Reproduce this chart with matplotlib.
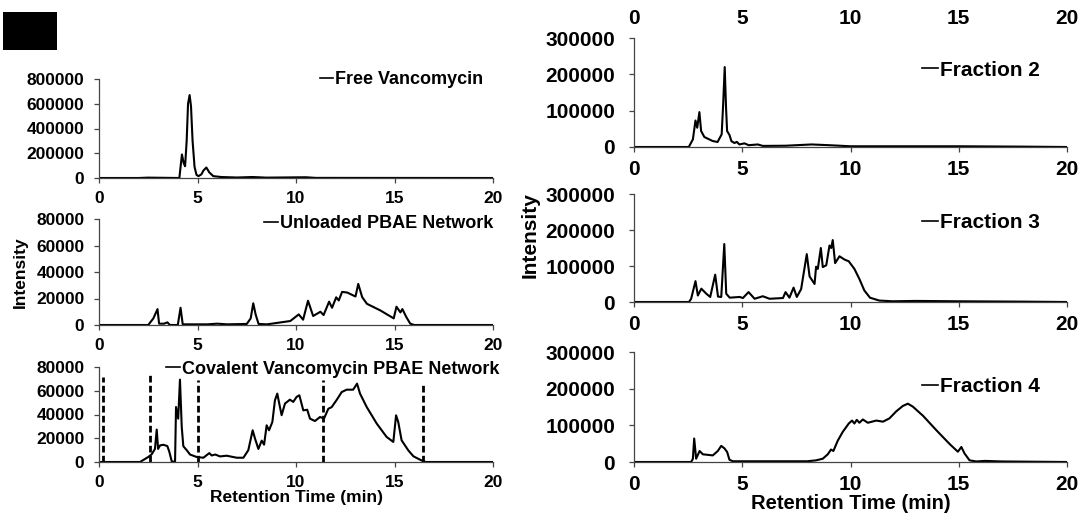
import matplotlib
matplotlib.use("Agg")
import matplotlib.pyplot as plt
from matplotlib.patches import Rectangle

plt.rcParams["font.family"] = ["Liberation Sans", "DejaVu Sans"]
plt.rcParams["font.weight"] = "bold"

# Chromatogram traces (retention time in min, intensity)
free_t = [0, 2, 2.5, 3.0, 4.08, 4.12, 4.21, 4.3, 4.37, 4.45, 4.52, 4.6, 4.67, 4.75, 4.85,
          4.95, 5.05, 5.2, 5.3, 5.45, 5.6, 5.8, 6.2, 7.0, 7.8, 8.5, 10.5, 11, 20]
free_i = [0, 0, 3000, 2000, 0, 60000, 190000, 120000, 95000, 300000, 600000, 670000,
          580000, 300000, 90000, 25000, 15000, 30000, 60000, 85000, 45000, 15000, 8000, 4000,
          8000, 3000, 6000, 1000, 0]

unl_t = [0, 2.5, 2.76, 2.97, 3.05, 3.3, 3.47, 3.6, 4.0, 4.14, 4.25, 5.5, 6.0, 6.5, 7.5, 7.7,
         7.83, 7.95, 8.1, 8.53, 9.0, 9.71, 10.14, 10.36, 10.61, 10.87, 11.24, 11.4, 11.68,
         11.83, 12.04, 12.17, 12.34, 12.6, 13.02, 13.16, 13.36, 13.6, 14.28, 14.96, 15.1,
         15.3, 15.4, 15.6, 15.8, 16.0, 20]
unl_i = [0, 0, 5000, 12000, 1000, 1000, 2000, 0, 0, 13000, 500, 500, 1000, 500, 800, 5000,
         16400, 8000, 800, 500, 1500, 3000, 8000, 4000, 18300, 6800, 10000, 7500, 17600,
         13000, 20900, 18500, 25000, 24500, 21500, 31000, 21000, 16000, 11000, 5000, 13800,
         9500, 12000, 6000, 1000, 0, 0]

cov_t = [0, 2.08, 2.5, 2.67, 2.84, 2.93, 3.0, 3.1, 3.27, 3.47, 3.57, 3.69, 3.86, 3.91, 4.02,
         4.11, 4.2, 4.28, 4.45, 4.62, 4.96, 5.3, 5.6, 5.72, 5.9, 6.14, 6.48, 6.99, 7.33,
         7.58, 7.8, 7.92, 8.09, 8.26, 8.38, 8.51, 8.63, 8.8, 8.93, 9.05, 9.15, 9.27, 9.44,
         9.69, 9.86, 10.03, 10.17, 10.37, 10.57, 10.71, 10.96, 11.22, 11.42, 11.64, 11.81,
         12.07, 12.32, 12.57, 12.9, 13.1, 13.25, 13.59, 14.1, 14.6, 14.94, 15.08, 15.19,
         15.36, 15.7, 15.96, 16.29, 16.46, 16.6, 20]
cov_i = [0, 0, 4200, 6400, 11000, 27300, 11000, 14000, 14500, 13400, 8600, 600, 0, 46300,
         36500, 69400, 29500, 13300, 10000, 6300, 4200, 3600, 7500, 5500, 6300, 4700, 5300,
         3600, 3600, 10000, 26700, 19700, 11000, 18000, 14600, 30900, 26700, 33700, 51900,
         57600, 49200, 39400, 49200, 52500, 50600, 54800, 56200, 43500, 44000, 36500, 34500,
         37900, 36500, 44800, 46200, 52400, 58900, 60900, 60900, 66000, 57600, 46300, 32300,
         21100, 16900, 39300, 33700, 18300, 9800, 4800, 2000, 600, 0, 0]

# fraction collection windows (min) and dashed line heights
cut_t = [0.19, 2.57, 5.01, 11.39, 16.46]
cut_top = [71500, 74400, 69400, 68800, 67400]

fr2_t = [0, 2.53, 2.72, 2.84, 2.92, 3.02, 3.1, 3.25, 3.63, 3.86, 4.05, 4.12, 4.19, 4.25,
         4.3, 4.41, 4.5, 4.64, 4.75, 4.87, 5.1, 5.3, 5.72, 5.95, 7.0, 8.2, 9.0, 10.0, 15.0,
         18.0, 20]
fr2_i = [0, 0, 21000, 73000, 53000, 96000, 44000, 27500, 16500, 13800, 35000, 120000,
         220000, 110000, 44000, 33000, 16000, 11000, 14000, 7000, 10000, 5000, 7000, 3000,
         3500, 7000, 5000, 2000, 2000, 1000, 0]

fr3_t = [0, 2.54, 2.64, 2.84, 2.95, 3.11, 3.34, 3.52, 3.75, 3.88, 4.03, 4.17, 4.26, 4.42,
         4.88, 5.03, 5.29, 5.57, 5.95, 6.26, 6.88, 7.0, 7.18, 7.37, 7.52, 7.72, 7.98, 8.11,
         8.34, 8.41, 8.49, 8.63, 8.72, 8.88, 9.03, 9.11, 9.18, 9.29, 9.49, 9.72, 9.92, 10.18,
         10.41, 10.64, 10.9, 11.33, 11.95, 13.0, 15.0, 18.0, 20]
fr3_i = [0, 0, 9000, 58000, 18000, 37000, 23000, 14000, 76000, 15000, 14000, 161000, 23000,
         12000, 14000, 11000, 27500, 9000, 16000, 9000, 11000, 27500, 12000, 40000, 14000,
         36000, 133000, 71000, 50000, 98000, 92000, 150000, 97000, 102000, 157000, 150000,
         172000, 108000, 127000, 118000, 113000, 92000, 64000, 32000, 12000, 4000, 2000,
         3000, 2000, 1000, 0]

fr4_t = [0, 2.64, 2.72, 2.78, 2.87, 3.03, 3.18, 3.64, 3.87, 4.03, 4.18, 4.3, 4.41, 4.57,
         8.0, 8.41, 8.72, 8.95, 9.1, 9.21, 9.41, 9.64, 9.92, 10.07, 10.18, 10.29, 10.41,
         10.57, 10.8, 11.19, 11.5, 11.8, 12.11, 12.42, 12.65, 12.88, 13.35, 13.96, 14.58,
         14.96, 15.12, 15.27, 15.5, 15.81, 16.2, 17.0, 20]
fr4_i = [0, 0, 9000, 64000, 9000, 30000, 21000, 18000, 30000, 44000, 37000, 27500, 6000,
         2000, 2000, 4500, 9000, 21000, 34000, 30000, 58000, 82000, 105000, 113000, 105000,
         115000, 107000, 116000, 107000, 113000, 110000, 119000, 138000, 153000, 159000,
         151000, 126000, 87000, 49000, 28000, 41000, 23000, 4500, 1500, 3000, 1500, 0]

x_ticks = [0, 5, 10, 15, 20]

W, H = 1082, 520
fig = plt.figure(figsize=(W / 100, H / 100), dpi=100)


def add_axes(x0, x1, y0, y1):
    return fig.add_axes([x0 / W, 1 - y1 / H, (x1 - x0) / W, (y1 - y0) / H])


def style(ax, ymax, ystep, fs, ypad):
    ax.set_xlim(0, 20)
    ax.set_ylim(0, ymax)
    ax.set_xticks(x_ticks)
    ax.set_yticks(range(0, ymax + 1, ystep))
    for s in ["top", "right"]:
        ax.spines[s].set_visible(False)
    for s in ["left", "bottom"]:
        ax.spines[s].set_color("#444444")
        ax.spines[s].set_linewidth(0.9)
    ax.tick_params(axis="x", direction="out", length=3.5, width=0.9, color="#444444",
                   labelsize=fs, pad=6)
    ax.tick_params(axis="y", direction="out", length=3.5, width=0.9, color="#444444",
                   labelsize=fs, pad=ypad)
    ax.patch.set_alpha(0)


def add_legend(ax, label, fs, xr, yc):
    leg = ax.legend([ax.lines[0]], [label], loc="center right", frameon=False,
                    bbox_to_anchor=(xr / W, 1 - yc / H), bbox_transform=fig.transFigure,
                    handlelength=0.75, handletextpad=0.1, borderpad=0, borderaxespad=0,
                    prop={"size": fs, "weight": "bold"})
    leg.get_lines()[0].set_linewidth(1.2)


LW = 1.5
fs_l = 12.5
fs_r = 15

# left column
ax1 = add_axes(99, 493, 79, 178)
ax1.plot(free_t, free_i, color="black", lw=LW)
style(ax1, 800000, 200000, fs_l, 7)
add_legend(ax1, "Free Vancomycin", 13, 483, 80)

ax2 = add_axes(99, 493, 219, 325)
ax2.plot(unl_t, unl_i, color="black", lw=LW)
style(ax2, 80000, 20000, fs_l, 7)
add_legend(ax2, "Unloaded PBAE Network", 13, 493, 224)

ax3 = add_axes(99, 493, 367, 462)
ax3.plot(cov_t, cov_i, color="black", lw=LW)
ax3.vlines(cut_t, 0, cut_top, colors="black", linestyles=(0, (2.4, 1.2)), lw=2)
style(ax3, 80000, 20000, fs_l, 7)
add_legend(ax3, "Covalent Vancomycin PBAE Network", 13, 499, 369)
ax3.set_xlabel("Retention Time (min)", fontsize=fs_l, fontweight="bold", labelpad=0)

fig.text(20 / W, 1 - 272 / H, "Intensity", rotation=90, ha="center", va="center",
         fontsize=fs_l, fontweight="bold")

# right column
ax4 = add_axes(634, 1067, 38, 147)
ax4.plot(fr2_t, fr2_i, color="black", lw=LW)
style(ax4, 300000, 100000, fs_r, 10)
add_legend(ax4, "Fraction 2", fs_r, 1040, 70)
top = ax4.secondary_xaxis("top")
top.set_xticks(x_ticks)
top.spines["top"].set_visible(False)
top.tick_params(length=0, labelsize=fs_r, pad=7)

ax5 = add_axes(634, 1067, 194, 302)
ax5.plot(fr3_t, fr3_i, color="black", lw=LW)
style(ax5, 300000, 100000, fs_r, 10)
add_legend(ax5, "Fraction 3", fs_r, 1040, 223)

ax6 = add_axes(634, 1067, 352, 462)
ax6.plot(fr4_t, fr4_i, color="black", lw=LW)
style(ax6, 300000, 100000, fs_r, 10)
add_legend(ax6, "Fraction 4", fs_r, 1040, 387)
ax6.set_xlabel("Retention Time (min)", fontsize=14.5, fontweight="bold", labelpad=0)

fig.text(530 / W, 1 - 235 / H, "Intensity", rotation=90, ha="center", va="center",
         fontsize=fs_r, fontweight="bold")

# panel label block
fig.patches.append(Rectangle((3 / W, 1 - 50 / H), 54 / W, 38 / H, transform=fig.transFigure,
                             facecolor="black", edgecolor="none"))

fig.savefig("out.png", dpi=100)
